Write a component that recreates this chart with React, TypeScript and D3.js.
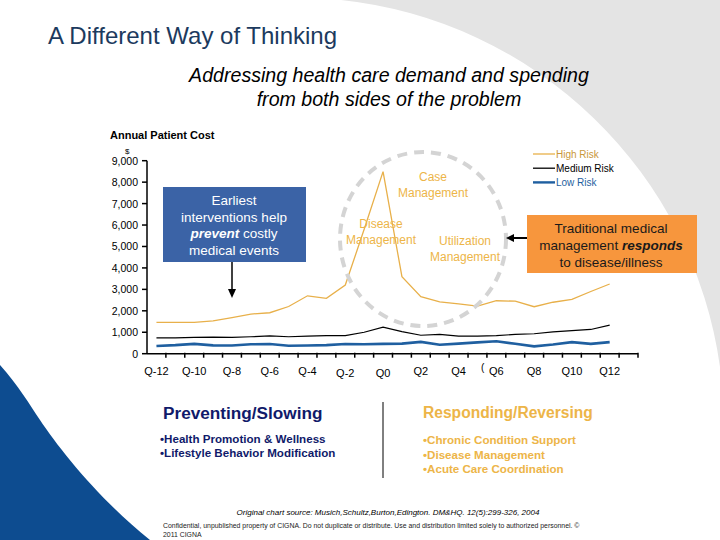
import React from 'react';
import * as d3 from 'd3';

// quarters around the high cost event (Q0); last band is empty
const quarters = [
  'Q-12', 'Q-11', 'Q-10', 'Q-9', 'Q-8', 'Q-7', 'Q-6', 'Q-5', 'Q-4', 'Q-3', 'Q-2', 'Q-1', 'Q0',
  'Q1', 'Q2', 'Q3', 'Q4', 'Q5', 'Q6', 'Q7', 'Q8', 'Q9', 'Q10', 'Q11', 'Q12', 'Q13',
];
const xLabels = ['Q-12', 'Q-10', 'Q-8', 'Q-6', 'Q-4', 'Q-2', 'Q0', 'Q2', 'Q4', 'Q6', 'Q8', 'Q10', 'Q12'];

const highRisk = [1465, 1465, 1465, 1530, 1680, 1850, 1910, 2200, 2700, 2580, 3200, 5800, 8490,
  3590, 2660, 2420, 2320, 2220, 2470, 2450, 2190, 2400, 2530, 2900, 3250];
const mediumRisk = [740, 740, 760, 770, 760, 790, 830, 790, 820, 840, 840, 1000, 1240,
  1030, 860, 900, 820, 820, 840, 900, 930, 1020, 1080, 1130, 1330];
const lowRisk = [360, 400, 460, 390, 380, 440, 450, 370, 380, 400, 450, 440, 460,
  470, 550, 420, 470, 530, 580, 460, 340, 430, 540, 460, 540];

const yTicks = [0, 1000, 2000, 3000, 4000, 5000, 6000, 7000, 8000, 9000];

const series = [
  { name: 'High Risk', values: highRisk, color: '#E8B04A', width: 1.3, text: '#C9973A' },
  { name: 'Medium Risk', values: mediumRisk, color: '#000000', width: 1.2, text: '#000000' },
  { name: 'Low Risk', values: lowRisk, color: '#1F5FA0', width: 2.6, text: '#1F5FA0' },
];

const gold = '#EDB548';
const navy = '#101A6A';

const App = () => {
  const x = d3.scaleBand().domain(quarters).range([147, 638]).padding(0);
  const y = d3.scaleLinear().domain([0, 9000]).range([353.7, 160.7]);
  const fmt = d3.format(',');
  const cx = (q: string) => (x(q) as number) + x.bandwidth() / 2;

  const line = d3.line<number>()
    .x((d, i) => cx(quarters[i]))
    .y(d => y(d));

  return (
    <svg width={720} height={540}
      style={{ position: 'absolute', left: 0, top: 0, fontFamily: 'Liberation Sans, Arial, sans-serif' }}>
      <rect width={720} height={540} fill="#fff" />
      {/* background shapes */}
      <path d="M341,0 A428,428 0 0 1 720,367 L720,0 Z" fill="#E4E4E4" />
      <path d="M0,365 C18,385 30,405 40,420 C60,450 100,500 150,540 L0,540 Z" fill="#0D4C90" />

      <text x={48} y={44} fontSize={24} fill="#1C3A5E">A Different Way of Thinking</text>
      <text x={389} y={82} fontSize={19.6} fontStyle="italic" textAnchor="middle">Addressing health care demand and spending</text>
      <text x={389} y={106} fontSize={19.6} fontStyle="italic" textAnchor="middle">from both sides of the problem</text>

      <text x={110} y={139} fontSize={11} fontWeight="bold">Annual Patient Cost</text>
      <text x={125} y={154} fontSize={8}>$</text>

      {/* y axis */}
      <line x1={147} x2={147} y1={y(9000)} y2={y(0)} stroke="#000" strokeWidth={1.5} />
      {yTicks.map(t => (
        <g key={t}>
          <line x1={142} x2={147} y1={y(t)} y2={y(t)} stroke="#000" strokeWidth={1.5} />
          <text x={138} y={y(t) + 4} fontSize={10.5} textAnchor="end">{fmt(t)}</text>
        </g>
      ))}

      {/* x axis */}
      <line x1={147} x2={638} y1={y(0)} y2={y(0)} stroke="#000" strokeWidth={1.5} />
      {quarters.map(q => (
        <line key={q} x1={(x(q) as number) + x.bandwidth()} x2={(x(q) as number) + x.bandwidth()}
          y1={y(0) - 1} y2={y(0) + 4} stroke="#000" strokeWidth={1.5} />
      ))}
      {xLabels.map(q => (
        <text key={q} x={cx(q)} y={q === 'Q-2' || q === 'Q0' ? 377 : 375} fontSize={11} textAnchor="middle">{q}</text>
      ))}
      <text x={481} y={371} fontSize={10}>(</text>

      {/* series */}
      {series.map(s => (
        <path key={s.name} d={line(s.values) as string} fill="none" stroke={s.color} strokeWidth={s.width} />
      ))}

      {/* legend */}
      {series.map((s, i) => (
        <g key={s.name} transform={`translate(533, ${154 + i * 14.2})`}>
          <line x1={0} x2={22} y1={0} y2={0} stroke={s.color} strokeWidth={s.width === 2.6 ? 2.4 : 1.3} />
          <text x={23} y={4} fontSize={10} fill={s.text}>{s.name}</text>
        </g>
      ))}

      {/* dashed circle */}
      <ellipse cx={423} cy={239} rx={83} ry={87} fill="none" stroke="#D4D4D4" strokeWidth={4} strokeDasharray="10 7" />
      <g fontSize={12} fill={gold} textAnchor="middle">
        <text x={433} y={181}>Case</text>
        <text x={433} y={197}>Management</text>
        <text x={381} y={228}>Disease</text>
        <text x={381} y={244}>Management</text>
        <text x={465} y={245}>Utilization</text>
        <text x={465} y={261}>Management</text>
      </g>

      {/* prevention box */}
      <rect x={163} y={187} width={143} height={75} fill="#3B63A6" />
      <g fontSize={13.5} fill="#fff" textAnchor="middle">
        <text x={234} y={205}>Earliest</text>
        <text x={234} y={222}>interventions help</text>
        <text x={234} y={238}><tspan fontWeight="bold" fontStyle="italic">prevent</tspan> costly</text>
        <text x={234} y={255}>medical events</text>
      </g>
      <line x1={232} x2={232} y1={262} y2={291} stroke="#000" strokeWidth={1.5} />
      <polygon points="228,289 236,289 232,298" fill="#000" />

      {/* response box */}
      <rect x={527} y={215} width={170} height={58} fill="#F7963D" />
      <g fontSize={13.5} fill="#1a1a1a" textAnchor="middle">
        <text x={611} y={233}>Traditional medical</text>
        <text x={611} y={250}>management <tspan fontWeight="bold" fontStyle="italic">responds</tspan></text>
        <text x={611} y={267}>to disease/illness</text>
      </g>
      <line x1={527} x2={513} y1={238} y2={238} stroke="#000" strokeWidth={2} />
      <polygon points="514,234 514,242 506,238" fill="#000" />

      {/* bottom columns */}
      <text x={163} y={419} fontSize={17.2} fontWeight="bold" fill={navy}>Preventing/Slowing</text>
      <g fontSize={11.6} fontWeight="bold" fill={navy}>
        <text x={160} y={443}>•Health Promotion &amp; Wellness</text>
        <text x={160} y={457}>•Lifestyle Behavior Modification</text>
      </g>
      <line x1={383} x2={383} y1={402} y2={478} stroke="#000" strokeWidth={1} />
      <text x={423} y={418} fontSize={15.6} fontWeight="bold" fill={gold}>Responding/Reversing</text>
      <g fontSize={11.6} fontWeight="bold" fill={gold}>
        <text x={423} y={444}>•Chronic Condition Support</text>
        <text x={423} y={459}>•Disease Management</text>
        <text x={423} y={473}>•Acute Care Coordination</text>
      </g>

      <text x={388} y={515} fontSize={8} fontStyle="italic" textAnchor="middle">
        Original chart source: Musich,Schultz,Burton,Edington. DM&amp;HQ. 12(5):299-326, 2004
      </text>
      <text x={163} y={528} fontSize={6.9} fill="#222">
        Confidential, unpublished property of CIGNA. Do not duplicate or distribute. Use and distribution limited solely to authorized personnel. ©
      </text>
      <text x={163} y={537} fontSize={6.9} fill="#222">2011 CIGNA</text>
    </svg>
  );
};

export default App;
